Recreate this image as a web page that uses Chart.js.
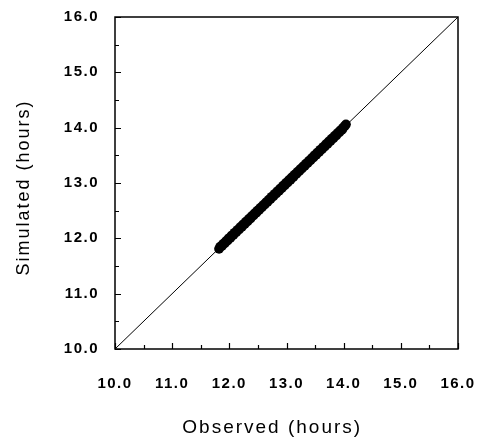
<!DOCTYPE html>
<html>
<head>
<meta charset="utf-8">
<script src="https://cdn.jsdelivr.net/npm/chart.js@4.4.0/dist/chart.umd.min.js"></script>
<style>
  html,body{margin:0;padding:0;background:#fff;}
  #wrap{width:480px;height:444px;position:relative;}
</style>
</head>
<body>
<div id="wrap"><canvas id="chart" width="480" height="444"></canvas></div>
<script>
// observed vs simulated day length (hours)
const observed = [
  11.82,11.84,11.87,11.89,11.92,11.94,11.97,11.99,12.02,12.04,
  12.07,12.09,12.12,12.14,12.17,12.19,12.22,12.24,12.27,12.29,
  12.32,12.34,12.37,12.39,12.42,12.44,12.47,12.49,12.52,12.54,
  12.57,12.59,12.62,12.64,12.67,12.69,12.72,12.74,12.77,12.79,
  12.82,12.84,12.87,12.89,12.92,12.94,12.97,12.99,13.02,13.04,
  13.07,13.09,13.12,13.14,13.17,13.19,13.22,13.24,13.27,13.29,
  13.32,13.34,13.37,13.39,13.42,13.44,13.47,13.49,13.52,13.54,
  13.57,13.59,13.62,13.64,13.67,13.69,13.72,13.74,13.77,13.79,
  13.82,13.84,13.87,13.89,13.92,13.94,13.97,13.99,14.02,14.04
];
const simulated = [
  11.81,11.85,11.86,11.90,11.91,11.95,11.96,12.00,12.01,12.05,
  12.06,12.10,12.11,12.15,12.16,12.20,12.21,12.25,12.26,12.30,
  12.31,12.35,12.36,12.40,12.41,12.45,12.46,12.50,12.51,12.55,
  12.56,12.60,12.61,12.65,12.66,12.70,12.71,12.75,12.76,12.80,
  12.81,12.85,12.86,12.90,12.91,12.95,12.96,13.00,13.01,13.05,
  13.06,13.10,13.11,13.15,13.16,13.20,13.21,13.25,13.26,13.30,
  13.31,13.35,13.36,13.40,13.41,13.45,13.46,13.50,13.51,13.55,
  13.56,13.60,13.61,13.65,13.66,13.70,13.71,13.75,13.76,13.80,
  13.81,13.85,13.86,13.90,13.91,13.95,13.96,14.00,14.03,14.06
];
const lineX = [10, 16];
const lineY = [10, 16];
const tickValues = [10, 11, 12, 13, 14, 15, 16];
const xTitle = 'Observed (hours)';
const yTitle = 'Simulated (hours)';

const pts = observed.map((v,i)=>({x:v, y:simulated[i]}));
const oneToOne = lineX.map((v,i)=>({x:v, y:lineY[i]}));

const FONT = "'Liberation Sans', Arial, sans-serif";

// tick labels get a little extra letter spacing
const spacingPlugin = {
  id:'spacing',
  beforeDraw(chart){ chart.ctx.letterSpacing = '1.5px'; }
};

// frame, inward major/minor ticks and the two axis titles
const framePlugin = {
  id:'frame',
  afterDatasetsDraw(chart){
    const {ctx, chartArea:a, scales:{x, y}} = chart;
    ctx.save();
    ctx.strokeStyle = '#000';
    ctx.lineWidth = 1.5;
    ctx.strokeRect(a.left, a.top, a.right-a.left, a.bottom-a.top);
    ctx.lineWidth = 1.2;
    for(let v=10; v<=16.001; v+=0.5){
      const major = Math.abs(v-Math.round(v))<1e-6;
      const len = major ? 6 : 4;
      const px = Math.round(x.getPixelForValue(v))+0.5;
      const py = Math.round(y.getPixelForValue(v))+0.5;
      ctx.beginPath();
      ctx.moveTo(px, a.bottom); ctx.lineTo(px, a.bottom-len);
      ctx.moveTo(a.left, py); ctx.lineTo(a.left+len, py);
      ctx.stroke();
    }

    ctx.fillStyle = '#000';
    ctx.textAlign = 'center';
    ctx.textBaseline = 'middle';
    ctx.letterSpacing = '2px';
    ctx.font = `19px ${FONT}`;
    ctx.fillText(xTitle, x.getPixelForValue(12.75), 428);

    ctx.font = `18px ${FONT}`;
    ctx.translate(24, y.getPixelForValue(12.92));
    ctx.rotate(-Math.PI/2);
    ctx.fillText(yTitle, 0, 0);
    ctx.restore();
  }
};

function noPad(s){ s.paddingLeft = 0; s.paddingRight = 0; s.paddingTop = 0; s.paddingBottom = 0; }

const axisCommon = {
  type:'linear', min:10, max:16,
  border:{display:false},
  grid:{display:false, drawTicks:false},
  afterBuildTicks(s){ s.ticks = tickValues.map(v=>({value:v})); }
};

new Chart(document.getElementById('chart'), {
  type:'scatter',
  data:{datasets:[
    {type:'line', data:oneToOne, borderColor:'#000', borderWidth:1, pointRadius:0, fill:false, order:2},
    {data:pts, backgroundColor:'#000', borderColor:'#000', pointRadius:4.9, borderWidth:0, order:1}
  ]},
  options:{
    responsive:false, animation:false,
    layout:{padding:{left:0, right:22, top:17, bottom:0}},
    plugins:{legend:{display:false}, tooltip:{enabled:false}},
    scales:{
      x:{...axisCommon,
        ticks:{padding:26, color:'#000', font:{family:FONT, size:15, weight:'bold'}, callback:v=>v.toFixed(1), maxRotation:0, autoSkip:false},
        afterFit(s){ s.height = 95; noPad(s); }
      },
      y:{...axisCommon,
        ticks:{padding:16, color:'#000', font:{family:FONT, size:15, weight:'bold'}, callback:v=>v.toFixed(1), autoSkip:false},
        afterFit(s){ s.width = 115; noPad(s); }
      }
    }
  },
  plugins:[spacingPlugin, framePlugin]
});
</script>
</body>
</html>
